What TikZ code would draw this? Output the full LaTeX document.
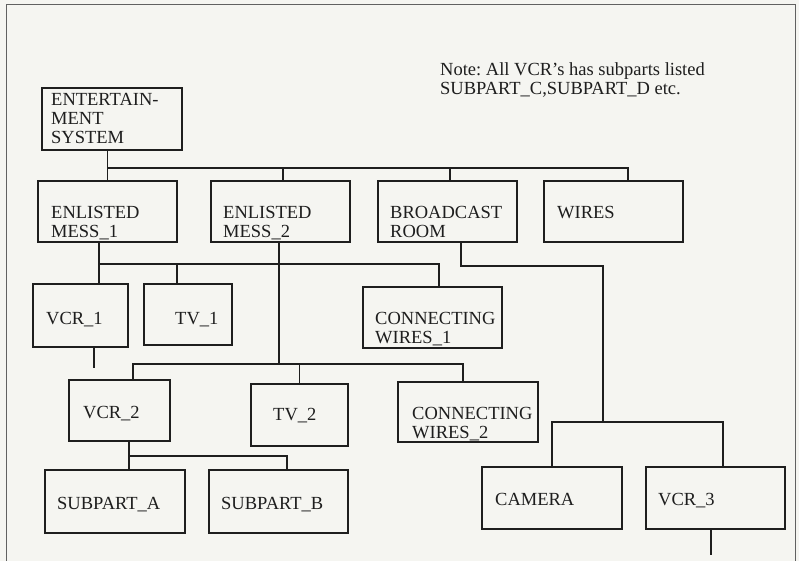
\documentclass[tikz,border=0pt]{standalone}
\usepackage{fontspec}
\setmainfont{Liberation Serif}
\usepackage{tikz}
\usetikzlibrary{calc}
\definecolor{paper}{RGB}{245,245,241}
\definecolor{ink}{RGB}{30,30,30}
\frenchspacing

\begin{document}
\begin{tikzpicture}[x=1pt,y=-1pt,
  box/.style={draw=ink,line width=1.4pt,minimum width=139pt,minimum height=61pt,inner sep=0pt},
  lbl/.style={anchor=north west,align=left,inner sep=0pt,text=ink,font=\fontsize{18.5}{19}\selectfont},
  wire/.style={draw=ink,line width=1.7pt}]
  \fill[paper] (0,0) rectangle (799,561);
  \useasboundingbox (0,0) rectangle (799,561);
  \draw[ink!70,line width=0.8pt] (6,561) -- (6,4) -- (795,4) -- (795,561);

  % boxes
  \node[box,minimum width=140pt,minimum height=62pt] (ent) at (112,119) {};
  \node[box] (em1) at (107.5,211.5) {};
  \node[box] (em2) at (280.5,211.5) {};
  \node[box] (br) at (447.5,211.5) {};
  \node[box] (wires) at (613.5,211.5) {};
  \node[box,minimum width=95pt,minimum height=63pt] (vcr1) at (80.5,315.5) {};
  \node[box,minimum width=88pt] (tv1) at (188,314.5) {};
  \node[box] (cw1) at (432.5,317.5) {};
  \node[box,minimum width=101pt] (vcr2) at (119.5,410.5) {};
  \node[box,minimum width=97pt,minimum height=62pt] (tv2) at (299.5,415) {};
  \node[box,minimum width=140pt,minimum height=60pt] (cw2) at (468,412) {};
  \node[box,minimum width=140pt,minimum height=63pt] (suba) at (115,501.5) {};
  \node[box,minimum height=63pt] (subb) at (278.5,501.5) {};
  \node[box,minimum width=140pt,minimum height=62pt] (camera) at (552,498) {};
  \node[box,minimum height=62pt] (vcr3) at (715.5,498) {};

  % texts
  \node[lbl] (note) at (440,62) {Note: All VCR's has subparts listed\\SUBPART\_C,SUBPART\_D etc.};
  \node[lbl] (ent-txt) at (51,93) {ENTERTAIN-\\MENT\\SYSTEM};
  \node[lbl] (em1-txt) at (51,206) {ENLISTED\\MESS\_1};
  \node[lbl] (em2-txt) at (223,206) {ENLISTED\\MESS\_2};
  \node[lbl] (br-txt) at (390,206) {BROADCAST\\ROOM};
  \node[lbl] (wires-txt) at (557,206) {WIRES};
  \node[lbl] (vcr1-txt) at (46,312) {VCR\_1};
  \node[lbl] (tv1-txt) at (175,312) {TV\_1};
  \node[lbl] (cw1-txt) at (375,312) {CONNECTING\\WIRES\_1};
  \node[lbl] (vcr2-txt) at (83,406) {VCR\_2};
  \node[lbl] (tv2-txt) at (273,408) {TV\_2};
  \node[lbl] (cw2-txt) at (412,407) {CONNECTING\\WIRES\_2};
  \node[lbl] (suba-txt) at (57,497) {SUBPART\_A};
  \node[lbl] (subb-txt) at (221,497) {SUBPART\_B};
  \node[lbl] (camera-txt) at (495,493) {CAMERA};
  \node[lbl] (vcr3-txt) at (658,493) {VCR\_3};

  % bus lines
  \coordinate (bus1) at (0,168);
  \coordinate (bus2) at (0,264);
  \coordinate (bus3) at (0,364);
  \coordinate (bus5) at (0,456);
  \coordinate (br-bend) at (603,266);
  \coordinate (cam-bus) at (603,422);
  \coordinate (vcr1-end) at (94,368);
  \coordinate (vcr3-end) at (711,555);

  % system
  \draw[wire] (ent.south -| em1.north) -- (em1.north);
  \draw[wire] (em1.north |- bus1) -| ([xshift=14.5pt]wires.north);
  \draw[wire] ([xshift=2.5pt]em2.north) -- ([xshift=2.5pt]em2.north |- bus1);
  \draw[wire] ([xshift=2.5pt]br.north) -- ([xshift=2.5pt]br.north |- bus1);
  % mess 1
  \draw[wire] ([xshift=-8.5pt]em1.south) -- ([xshift=18.5pt]vcr1.north);
  \draw[wire] ([xshift=-8.5pt]em1.south |- bus2) -| ([xshift=6.5pt]cw1.north);
  \draw[wire] ([xshift=-11pt]tv1.north) -- ([xshift=-11pt]tv1.north |- bus2);
  \draw[wire] ([xshift=13.5pt]vcr1.south) -- (vcr1-end);
  % mess 2
  \draw[wire] ([xshift=-1.5pt]em2.south) -- ([xshift=-1.5pt]em2.south |- bus3);
  \draw[wire] ([xshift=13.5pt]vcr2.north) |- ([xshift=-1.5pt]em2.south |- bus3) -| ([xshift=-5pt]cw2.north);
  \draw[wire] (tv2.north) -- (tv2.north |- bus3);
  \draw[wire] ([xshift=9.5pt]vcr2.south) -- ([xshift=14pt]suba.north);
  \draw[wire] ([xshift=9.5pt]vcr2.south |- bus5) -| ([xshift=8.5pt]subb.north);
  % broadcast room
  \draw[wire] ([xshift=13.5pt]br.south) |- (br-bend) -- (cam-bus);
  \draw[wire] (camera.north) |- (cam-bus) -| ([xshift=7.5pt]vcr3.north);
  \draw[wire] ([xshift=-4.5pt]vcr3.south) -- (vcr3-end);
\end{tikzpicture}
\end{document}
